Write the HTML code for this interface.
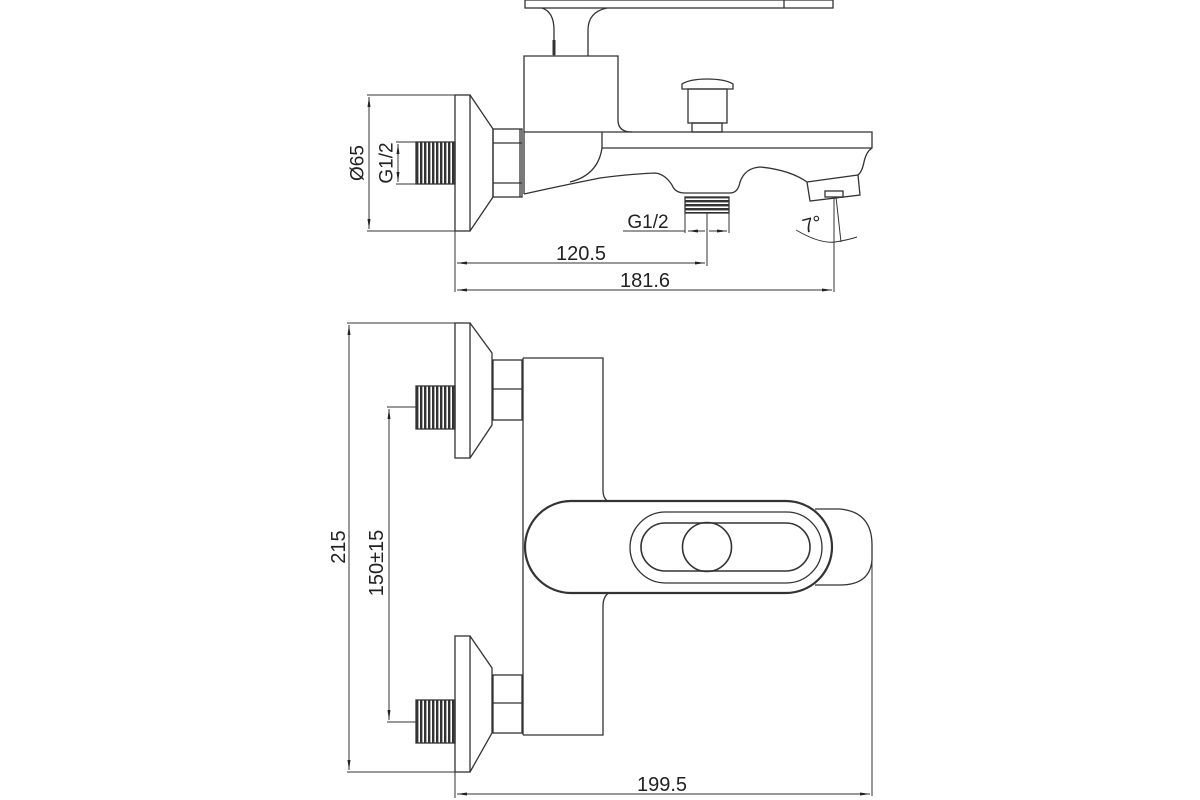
<!DOCTYPE html>
<html><head><meta charset="utf-8"><style>
html,body{margin:0;padding:0;background:#fff;}
svg{display:block;}
text{font-family:"Liberation Sans",sans-serif;fill:#222;}
</style></head><body>
<svg width="1200" height="800" viewBox="0 0 1200 800" xmlns="http://www.w3.org/2000/svg">
<defs>
<marker id="a" viewBox="0 0 10 6" refX="10" refY="3" markerWidth="10" markerHeight="6" orient="auto-start-reverse" markerUnits="userSpaceOnUse"><path d="M0,1.5 L10,3 L0,4.5 Z" fill="#222"/></marker>
<pattern id="thr" width="4" height="4" patternUnits="userSpaceOnUse"><rect width="4" height="4" fill="#fff"/><rect width="2.4" height="4" fill="#333"/></pattern>
<pattern id="thrh" width="4" height="4" patternUnits="userSpaceOnUse"><rect width="4" height="4" fill="#fff"/><rect width="4" height="2.4" fill="#333"/></pattern>
</defs>
<g fill="none" stroke="#333" stroke-width="1.3">
<rect x="525" y="0" width="308" height="8"/>
<line x1="784" y1="0" x2="784" y2="8"/>
<path d="M542,8 Q554,12 554,30 L554,56"/>
<path d="M607,8 Q588,12 588,30 L588,56"/>
<line x1="554" y1="40" x2="554" y2="55" stroke-width="3"/>
<path d="M524,132 L524,56 L618,56 L618,120 Q618,132 632,132"/>
<rect x="455" y="95" width="15" height="136"/>
<path d="M470,95 L493,129 L493,197 L470,231"/>
<rect x="493" y="129" width="29" height="68"/>
<line x1="493" y1="143" x2="522" y2="143"/>
<line x1="493" y1="183" x2="522" y2="183"/>
<line x1="520" y1="129" x2="520" y2="197"/>
<rect x="416" y="142" width="39" height="42" fill="url(#thr)"/>
<path d="M524,194 L524,132 L872,132 L872,148 Q866,152 864,162 Q862,172 858,175"/>
<line x1="602" y1="148" x2="872" y2="148"/>
<line x1="602" y1="132" x2="602" y2="148"/>
<path d="M602,148 Q598,175 570,182"/>
<path d="M524,194 Q560,186 600,178 Q630,174 655,173 Q665,174 672,185 Q675,193 685,193 L730,193 Q738,193 740,182 Q745,168 760,167 Q790,170 807,182"/>
<path d="M807,182 L858,175 L860,195 L810,201 Z"/>
<rect x="825" y="191" width="18" height="6"/>
<path d="M682,89 L682,84 Q690,79 707,79 Q725,79 733,84 L733,89 Z"/>
<rect x="688" y="89" width="39" height="34"/>
<rect x="692" y="123" width="30" height="9"/>
<rect x="685" y="197" width="44" height="16" fill="url(#thrh)"/>
<line x1="685" y1="213" x2="685" y2="233" stroke-width="1"/>
<line x1="729" y1="213" x2="729" y2="233" stroke-width="1"/>
<line x1="707" y1="213" x2="707" y2="266" stroke-width="1"/>
<line x1="623" y1="231" x2="685" y2="231" stroke-width="1"/>
<line x1="688" y1="231" x2="705" y2="231" stroke-width="1" marker-start="url(#a)"/>
<line x1="709" y1="231" x2="727" y2="231" stroke-width="1" marker-end="url(#a)"/>
<line x1="834" y1="197" x2="834" y2="292" stroke-width="1"/>
<line x1="836" y1="197" x2="841" y2="242" stroke-width="1"/>
<path d="M796,230 Q820,244 835,242 Q848,240 857,237" stroke-width="1"/>
<line x1="367" y1="95" x2="455" y2="95" stroke-width="1"/>
<line x1="367" y1="231" x2="455" y2="231" stroke-width="1"/>
<line x1="369" y1="97" x2="369" y2="229" stroke-width="1" marker-start="url(#a)" marker-end="url(#a)"/>
<line x1="396" y1="142" x2="416" y2="142" stroke-width="1"/>
<line x1="396" y1="184" x2="416" y2="184" stroke-width="1"/>
<line x1="398" y1="144" x2="398" y2="182" stroke-width="1" marker-start="url(#a)" marker-end="url(#a)"/>
<line x1="455" y1="231" x2="455" y2="292" stroke-width="1"/>
<line x1="457" y1="263" x2="705" y2="263" stroke-width="1" marker-start="url(#a)" marker-end="url(#a)"/>
<line x1="457" y1="290" x2="832" y2="290" stroke-width="1" marker-start="url(#a)" marker-end="url(#a)"/>

<rect x="455" y="323" width="15" height="135"/>
<path d="M470,323 L492,353 L492,425 L470,458"/>
<rect x="493" y="360" width="29" height="60"/>
<line x1="493" y1="389" x2="522" y2="389"/>
<rect x="416" y="386" width="39" height="43" fill="url(#thr)"/>
<rect x="455" y="636" width="15" height="136"/>
<path d="M470,636 L492,668 L492,733 L470,772"/>
<rect x="493" y="675" width="29" height="58"/>
<line x1="493" y1="703" x2="522" y2="703"/>
<rect x="416" y="700" width="39" height="43" fill="url(#thr)"/>
<path d="M523,358 L603,358 L603,490 Q603,500 610,502"/>
<path d="M610,592 Q603,596 603,606 L603,735 L523,735"/>
<line x1="523" y1="358" x2="523" y2="735"/>
<path d="M815,509 L840,509 Q872,512 872,545 L872,560 Q870,585 840,585 L815,585"/>
<line x1="872" y1="560" x2="872" y2="796" stroke-width="1"/>
<rect x="525" y="501" width="307" height="92" rx="46" ry="46" fill="#fff" stroke-width="2.2"/>
<rect x="630" y="512" width="192" height="71" rx="35.5" ry="35.5"/>
<rect x="641" y="523" width="169" height="48" rx="24" ry="24" stroke-width="1.6"/>
<circle cx="707" cy="547" r="24.5" stroke-width="1.6"/>
<line x1="347" y1="323" x2="455" y2="323" stroke-width="1"/>
<line x1="347" y1="772" x2="455" y2="772" stroke-width="1"/>
<line x1="349" y1="325" x2="349" y2="770" stroke-width="1" marker-start="url(#a)" marker-end="url(#a)"/>
<line x1="387" y1="407" x2="416" y2="407" stroke-width="1"/>
<line x1="387" y1="722" x2="416" y2="722" stroke-width="1"/>
<line x1="389" y1="409" x2="389" y2="720" stroke-width="1" marker-start="url(#a)" marker-end="url(#a)"/>
<line x1="455" y1="772" x2="455" y2="798" stroke-width="1"/>
<line x1="457" y1="794" x2="870" y2="794" stroke-width="1" marker-start="url(#a)" marker-end="url(#a)"/>
</g>
<text x="358" y="163" font-size="19" text-anchor="middle" dominant-baseline="central" transform="rotate(-90 358 163)">Ø65</text>
<text x="387" y="163" font-size="19" text-anchor="middle" dominant-baseline="central" transform="rotate(-90 387 163)">G1/2</text>
<text x="648" y="228" font-size="19" text-anchor="middle">G1/2</text>
<text x="812" y="231" font-size="20" text-anchor="middle" transform="rotate(-15 812 224)">7°</text>
<text x="581" y="260" font-size="20" text-anchor="middle">120.5</text>
<text x="645" y="287" font-size="20" text-anchor="middle">181.6</text>
<text x="339" y="547" font-size="20" text-anchor="middle" dominant-baseline="central" transform="rotate(-90 339 547)">215</text>
<text x="377" y="563" font-size="20" text-anchor="middle" dominant-baseline="central" transform="rotate(-90 377 563)">150±15</text>
<text x="662" y="791" font-size="20" text-anchor="middle">199.5</text>
</svg>
</body></html>
